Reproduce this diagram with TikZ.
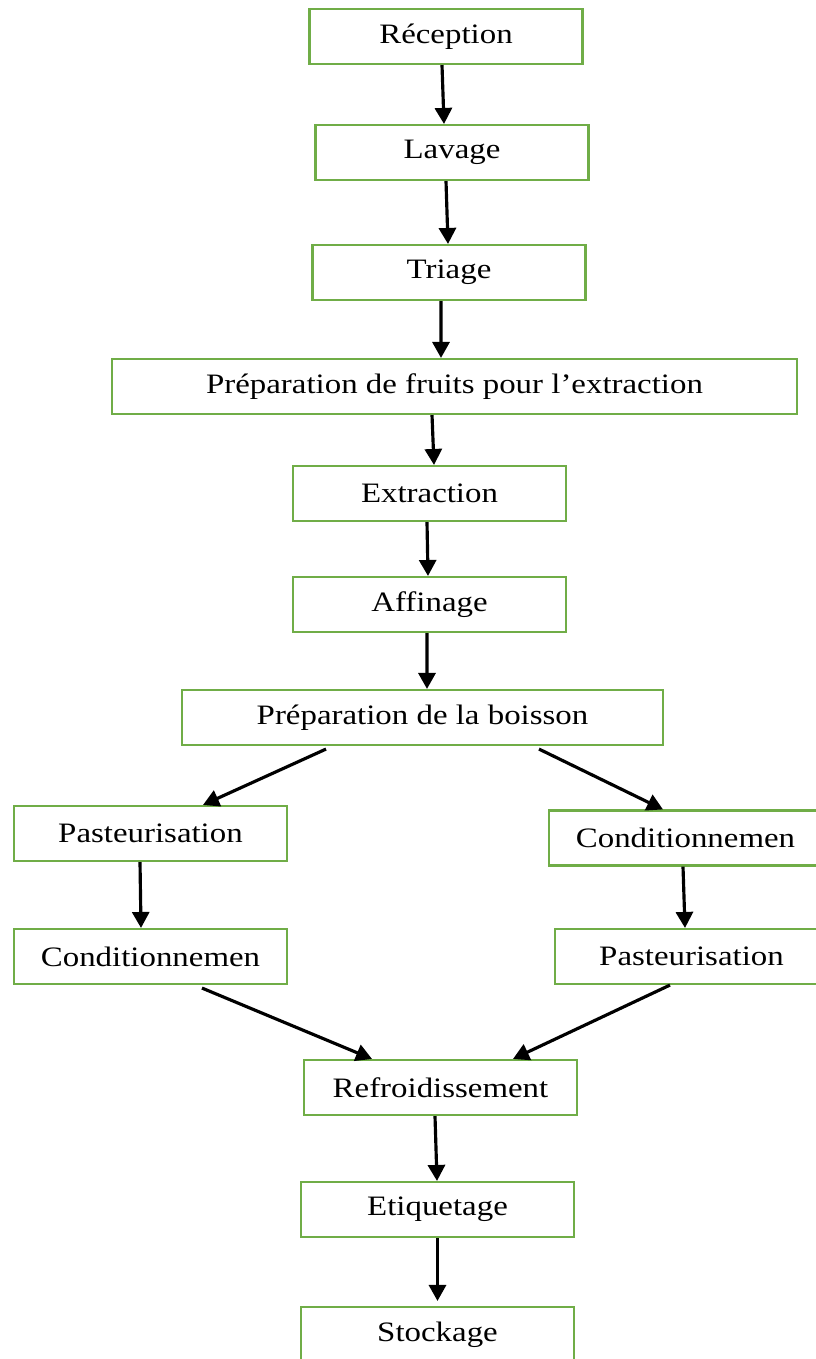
\documentclass[tikz,border=0pt]{standalone}
\usepackage{fontspec}
\setmainfont{Liberation Serif}[FakeStretch=1.17]
\usepackage{tikz}
\usetikzlibrary{arrows.meta}

\definecolor{boxgreen}{RGB}{112,173,71}

\tikzset{
  etape/.style={draw=boxgreen, line width=1.2pt, minimum height=1.1cm,
    minimum width=5.46cm, inner sep=0pt, font=\fontsize{16}{18}\selectfont},
  fleche/.style={-{Triangle[length=0.32cm,width=0.34cm]}, line width=1.8pt, black}
}

\begin{document}
\begin{tikzpicture}[x=0.02cm,y=-0.02cm]
\useasboundingbox (0,0) rectangle (815,1359);

% main chain
\node[etape] (rec) at (446,36.5) {Réception};
\node[etape] (lav) at (452,152.5) {Lavage};
\node[etape] (tri) at (449,272.5) {Triage};
\node[etape, minimum width=13.7cm] (fru) at (454.5,386.5) {Préparation de fruits pour l’extraction};
\node[etape] (ext) at (429.5,493.5) {Extraction};
\node[etape] (aff) at (429.5,604.5) {Affinage};
\node[etape, minimum width=9.62cm] (boi) at (422.5,717.5) {Préparation de la boisson};

% two branches
\node[etape] (pasa) at (150.5,833.5) {Pasteurisation};
\node[etape] (conda) at (150.5,956.5) {Conditionnemen};
\node[etape] (condb) at (685.5,838) {Conditionnemen};
\node[etape] (pasb) at (691.5,956.5) {Pasteurisation};

% end of chain
\node[etape] (ref) at (440.5,1087.5) {Refroidissement};
\node[etape] (eti) at (437.5,1209.5) {Etiquetage};
\node[etape] (sto) at (437.5,1334.5) {Stockage};

\draw[fleche] ([xshift=-0.08cm]rec.south) -- ([xshift=-0.16cm]lav.north);
\draw[fleche] ([xshift=-0.12cm]lav.south) -- ([xshift=-0.02cm]tri.north);
\draw[fleche] ([xshift=-0.16cm]tri.south) -- ([xshift=-0.27cm]fru.north);
\draw[fleche] ([xshift=-0.45cm]fru.south) -- ([xshift=0.09cm]ext.north);
\draw[fleche] ([xshift=-0.05cm]ext.south) -- ([xshift=-0.03cm]aff.north);
\draw[fleche] ([xshift=-0.05cm]aff.south) -- ([xshift=0.09cm]boi.north);

\draw[fleche] ([xshift=-1.93cm,yshift=-0.06cm]boi.south) -- ([xshift=1.05cm]pasa.north);
\draw[fleche] ([xshift=2.33cm,yshift=-0.06cm]boi.south) -- ([xshift=-0.45cm]condb.north);
\draw[fleche] ([xshift=-0.21cm]pasa.south) -- ([xshift=-0.19cm]conda.north);
\draw[fleche] ([xshift=-0.05cm]condb.south) -- ([xshift=-0.13cm]pasb.north);
\draw[fleche] ([xshift=1.03cm,yshift=-0.06cm]conda.south) -- ([xshift=-1.37cm]ref.north);
\draw[fleche] ([xshift=-0.43cm]pasb.south) -- ([xshift=1.45cm]ref.north);

\draw[fleche] ([xshift=-0.11cm]ref.south) -- ([xshift=-0.01cm]eti.north);
\draw[fleche, shorten >=0.1cm] (eti.south) -- (sto.north);
\end{tikzpicture}
\end{document}
